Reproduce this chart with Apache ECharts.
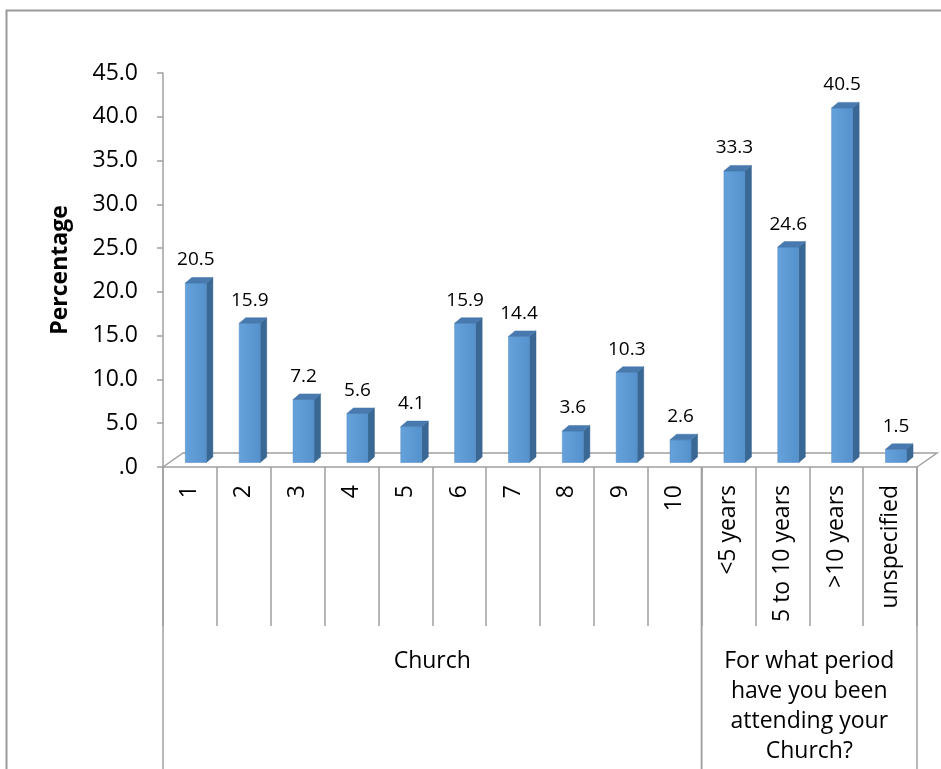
<!DOCTYPE html>
<html>
<head>
<meta charset="utf-8">
<script src="https://cdn.jsdelivr.net/npm/echarts@6/dist/echarts.min.js"></script>
<style>
html,body{margin:0;padding:0;background:#fff;}
#chart{width:941px;height:769px;}
</style>
</head>
<body>
<div id="chart"></div>
<script>
const categories = ['1','2','3','4','5','6','7','8','9','10','<5 years','5 to 10 years','>10 years','unspecified'];
const values = [20.5, 15.9, 7.2, 5.6, 4.1, 15.9, 14.4, 3.6, 10.3, 2.6, 33.3, 24.6, 40.5, 1.5];
const groupNames = ['Church', 'For what period\nhave you been\nattending your\nChurch?'];
const groupStart = [0, 10];
const groupEnd = [9, 13];
const yMin = 0, yMax = 45, yStep = 5;

const FONT = '"Open Sans", "Noto Sans", sans-serif';
const GRAY = '#A0A0A0';

const chart = echarts.init(document.getElementById('chart'), null, {renderer: 'canvas'});

function renderBar(params, api) {
  const i = api.value(0), v = api.value(1);
  const base = api.coord([i, 0]);
  const top = api.coord([i, v]);
  const band = api.size([1, 0])[0];
  const w = band * 0.39;
  const xL = base[0] - band * 0.085;
  const yB = base[1] - 4.5;
  const yT = top[1] - 4.5;
  const dx = 6.5, dy = -5.5;
  return {
    type: 'group',
    children: [
      {type: 'polygon', shape: {points: [[xL + w, yT], [xL + w + dx, yT + dy], [xL + w + dx, yB + dy], [xL + w, yB]]},
       style: {fill: '#3A6894', stroke: '#365F88', lineWidth: 0.5}},
      {type: 'rect', shape: {x: xL, y: yT, width: w, height: yB - yT},
       style: {fill: new echarts.graphic.LinearGradient(0, 0, 1, 0, [{offset: 0, color: '#65A2DB'}, {offset: 1, color: '#5592CD'}]), stroke: '#4E86BE', lineWidth: 0.5}},
      {type: 'polygon', shape: {points: [[xL, yT], [xL + dx, yT + dy], [xL + w + dx, yT + dy], [xL + w, yT]]},
       style: {fill: '#487AB0', stroke: '#4374A8', lineWidth: 0.5}},
      {type: 'text', x: xL + w / 2, y: yT - 23,
       style: {text: v.toFixed(1), fill: '#000', fontSize: 19, fontFamily: FONT, align: 'center', verticalAlign: 'middle'}}
    ]
  };
}

function renderFloor(params, api) {
  const band = api.size([1, 0])[0];
  const x0 = api.coord([api.value(0), 0])[0] - band / 2;
  const x1 = api.coord([api.value(1), 0])[0] + band / 2;
  const y0 = api.coord([0, 0])[1];
  return {
    type: 'polyline',
    shape: {points: [[x0, y0], [x0 + 20, y0 - 14], [x1 + 20, y0 - 14], [x1, y0]]},
    style: {stroke: GRAY, lineWidth: 1.5, fill: null}
  };
}

function renderGroup(params, api) {
  const band = api.size([1, 0])[0];
  const x0 = api.coord([api.value(0), 0])[0] - band / 2;
  const x1 = api.coord([api.value(1), 0])[0] + band / 2;
  const y0 = api.coord([0, 0])[1];
  return {
    type: 'group',
    children: [
      {type: 'line', shape: {x1: x0, y1: y0, x2: x0, y2: y0 + 320}, style: {stroke: GRAY, lineWidth: 1.5}},
      {type: 'line', shape: {x1: x1, y1: y0, x2: x1, y2: y0 + 320}, style: {stroke: GRAY, lineWidth: 1.5}},
      {type: 'text', x: (x0 + x1) / 2, y: y0 + 179,
       style: {text: groupNames[params.dataIndex], fill: '#000', fontSize: 23, fontFamily: FONT,
               align: 'center', verticalAlign: 'top', lineHeight: 30}}
    ]
  };
}

chart.setOption({
  animation: false,
  backgroundColor: '#fff',
  graphic: [{
    type: 'rect', left: 4, top: 8, shape: {x: 0, y: 0, width: 1000, height: 1000},
    style: {fill: null, stroke: '#9A9A9A', lineWidth: 2}, silent: true, z: -10
  }],
  grid: {left: 163, top: 73, right: 24, bottom: 302, containLabel: false},
  xAxis: {
    type: 'category',
    data: categories,
    boundaryGap: true,
    axisLine: {show: true, lineStyle: {color: GRAY, width: 1.5}},
    axisTick: {show: true, length: 159, interval: 0, lineStyle: {color: GRAY, width: 1.5}},
    axisLabel: {rotate: 90, margin: 18, interval: 0, color: '#000', fontSize: 23, fontFamily: FONT},
    splitLine: {show: false}
  },
  yAxis: {
    type: 'value',
    min: yMin, max: yMax, interval: yStep,
    name: 'Percentage',
    nameLocation: 'middle',
    nameRotate: 90,
    nameGap: 91,
    nameTextStyle: {color: '#000', fontSize: 23, fontWeight: 'bold', fontFamily: FONT},
    axisLine: {show: true, lineStyle: {color: GRAY, width: 1.5}},
    axisTick: {show: true, length: 6, lineStyle: {color: GRAY, width: 1.5}},
    axisLabel: {margin: 25, color: '#000', fontSize: 23, fontFamily: FONT,
      formatter: function (v) { return v === 0 ? '.0' : v.toFixed(1); }},
    splitLine: {show: false}
  },
  series: [
    {type: 'custom', renderItem: renderFloor, data: [[0, categories.length - 1]], clip: false, z: 1, silent: true},
    {type: 'custom', renderItem: renderBar, data: values.map((v, i) => [i, v]), clip: false, z: 3, silent: true},
    {type: 'custom', renderItem: renderGroup, data: groupStart.map((s, k) => [s, groupEnd[k]]), clip: false, z: 2, silent: true}
  ]
});
</script>
</body>
</html>
